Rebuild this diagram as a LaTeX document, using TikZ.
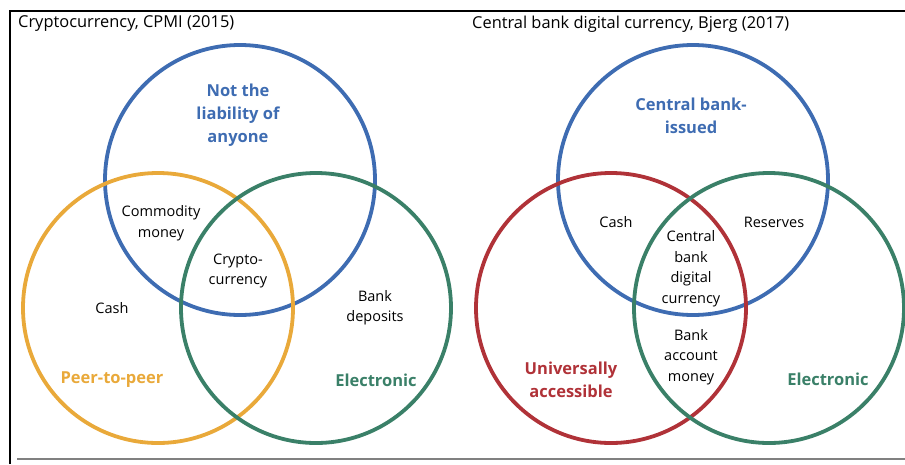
\documentclass[tikz,border=0pt]{standalone}
\usepackage{fontspec}
\setmainfont{Open Sans}
\usetikzlibrary{positioning}

\definecolor{vblue}{RGB}{62,108,178}
\definecolor{vyellow}{RGB}{233,169,58}
\definecolor{vgreen}{RGB}{58,128,104}
\definecolor{vred}{RGB}{176,50,56}

\begin{document}
\begin{tikzpicture}[x=1pt,y=-1pt,
	ring/.style={line width=3.8pt},
	lab/.style={font=\fontsize{14.5}{20.5}\selectfont, align=center, inner sep=0pt},
	head/.style={font=\fontsize{16.5}{23}\selectfont\bfseries, align=center, inner sep=0pt},
	title/.style={font=\fontsize{16.4}{19}\selectfont, anchor=west, inner sep=0pt}]
	\def \rad {135}
	\def \off {453}
	
	\useasboundingbox (0,0) rectangle (905,464);
	
	%frame
	\draw [line width=2.5pt] (10,464) -- (10,11) -- (905,11);
	\draw [gray, line width=1.5pt] (17,459) -- (905,459);
	
	%left venn
	\node[title] (ltitle) at (18,24) {Cryptocurrency, CPMI (2015)};
	\draw [ring, vblue] (240,180) circle (\rad);
	\draw [ring, vyellow] (158,308) circle (\rad);
	\draw [ring, vgreen] (316,308) circle (\rad);
	
	\node[head, text=vblue] (notliab) at (238,115) {Not the\\liability of\\anyone};
	\node[head, text=vyellow] (peer) at (112,380) {Peer-to-peer};
	\node[head, text=vgreen] (lelec) at (376,380) {Electronic};
	\node[lab] (commod) at (161,223) {Commodity\\money};
	\node[lab] (crypto) at (238,271) {Crypto-\\currency};
	\node[lab] (lcash) at (112,308) {Cash};
	\node[lab] (deposits) at (375,307.5) {Bank\\deposits};
	
	%right venn
	\node[title] (rtitle) at (472,24) {Central bank digital currency, Bjerg (2017)};
	\draw [ring, vblue] (240+\off,180) circle (\rad);
	\draw [ring, vred] (158+\off,308) circle (\rad);
	\draw [ring, vgreen] (316+\off,308) circle (\rad);
	
	\node[head, text=vblue] (cbissued) at (691,116) {Central bank-\\issued};
	\node[head, text=vred] (univ) at (571,379.5) {Universally\\accessible};
	\node[head, text=vgreen] (relec) at (828,379) {Electronic};
	\node[lab] (rcash) at (616,222) {Cash};
	\node[lab] (reserves) at (774,222) {Reserves};
	\node[lab] (cbdc) at (691,268.5) {Central\\bank\\digital\\currency};
	\node[lab] (bankacc) at (691,357) {Bank\\account\\money};
\end{tikzpicture}
\end{document}
